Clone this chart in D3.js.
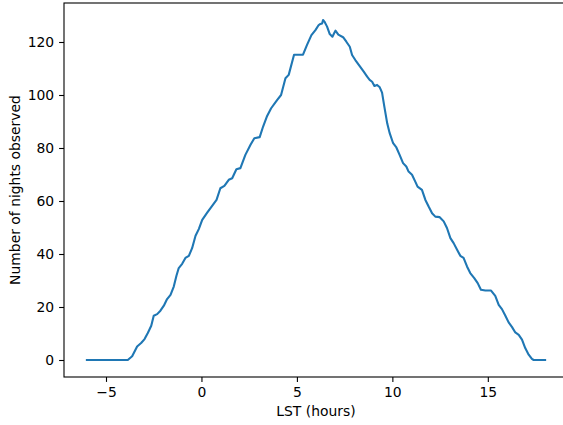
<!DOCTYPE html>
<html>
<head>
<meta charset="utf-8">
<script src="https://cdn.jsdelivr.net/npm/d3@7"></script>
<style>
  body { margin: 0; background: #fff; }
  svg text { font-family: "DejaVu Sans", sans-serif; fill: #000; }
</style>
</head>
<body>
<svg width="563" height="425"></svg>
<script>
// values
var lst = [-6, -3.86, -3.63, -3.37, -3.16, -2.98, -2.81, -2.63, -2.5, -2.32, -2.15, -1.97,
  -1.8, -1.62, -1.45, -1.31, -1.19, -1.01, -0.84, -0.66, -0.49, -0.31, -0.14, 0.04, 0.3,
  0.56, 0.79, 0.99, 1.2, 1.43, 1.61, 1.83, 2.04, 2.3, 2.57, 2.77, 3.05, 3.23, 3.44, 3.65,
  3.96, 4.17, 4.4, 4.57, 4.85, 5.32, 5.53, 5.76, 5.97, 6.14, 6.23, 6.32, 6.37, 6.44, 6.58,
  6.72, 6.86, 6.95, 7.02, 7.17, 7.42, 7.59, 7.77, 7.89, 8.06, 8.29, 8.5, 8.68, 8.81, 8.94,
  9.06, 9.2, 9.34, 9.46, 9.58, 9.73, 9.86, 10.04, 10.21, 10.38, 10.56, 10.73, 10.85, 11.03,
  11.2, 11.32, 11.55, 11.73, 11.9, 12.08, 12.25, 12.48, 12.69, 12.86, 13.04, 13.21, 13.39,
  13.56, 13.73, 13.91, 14.08, 14.29, 14.47, 14.64, 14.87, 15.17, 15.39, 15.57, 15.74, 15.92,
  16.09, 16.27, 16.44, 16.62, 16.79, 16.96, 17.14, 17.31, 17.4, 18];
var nights = [0, 0, 1.4, 5.1, 6.4, 7.9, 10.2, 12.9, 16.7, 17.3, 18.6, 20.5,
  23, 24.6, 27.7, 31.8, 34.7, 36.3, 38.5, 39.3, 42.2, 46.9, 49.4, 52.9, 55.6,
  58.2, 60.4, 64.8, 65.7, 68, 68.6, 72, 72.4, 77.4, 81.2, 83.7, 84.1, 88.1, 92.1, 95,
  98.1, 100, 106.3, 107.6, 115.2, 115.2, 118.9, 122.6, 124.5, 126.4, 126.8, 127, 128.3, 127.7, 125.8,
  123, 122, 123.3, 124.3, 122.8, 121.8, 120.1, 118.2, 115.1, 113.2, 110.9, 108.8, 106.9, 105.7, 105,
  103.4, 103.8, 102.9, 100.9, 95.6, 89.3, 85.6, 81.8, 80.2, 77.4, 74.3, 73, 71.1, 69.9,
  67.3, 65.4, 64.2, 60.4, 57.9, 55.4, 54.1, 53.9, 52.3, 49.8, 46, 44.1, 41.6,
  39.3, 38.5, 35.3, 32.8, 30.9, 29, 26.5, 26.2, 26.2, 24.2, 20.8, 19.2, 16.7,
  14.2, 12.4, 10.4, 9.5, 7.7, 4.5, 2, 0.4, 0, 0];
var xTicks = [-5, 0, 5, 10, 15];
var yTicks = [0, 20, 40, 60, 80, 100, 120];

var svg = d3.select('svg');
var plotLeft = 64, plotRight = 568, plotTop = 3, plotBottom = 377;
var fontSize = 13.9;

var xExt = d3.extent(lst), yExt = d3.extent(nights);
var xPad = (xExt[1] - xExt[0]) * 0.05, yPad = (yExt[1] - yExt[0]) * 0.05;
var x = d3.scaleLinear().domain([xExt[0] - xPad, xExt[1] + xPad]).range([plotLeft, plotRight]);
var y = d3.scaleLinear().domain([yExt[0] - yPad, yExt[1] + yPad]).range([plotBottom, plotTop]);

var line = d3.line()
    .x(function (d, i) { return x(lst[i]); })
    .y(function (d) { return y(d); });

svg.append('path')
    .datum(nights)
    .attr('fill', 'none')
    .attr('stroke', '#1f77b4')
    .attr('stroke-width', 2.1)
    .attr('stroke-linejoin', 'round')
    .attr('stroke-linecap', 'square')
    .attr('d', line);

var xAxis = svg.append('g')
    .attr('transform', 'translate(0,' + plotBottom + ')')
    .call(d3.axisBottom(x).tickValues(xTicks).tickSize(4.9).tickPadding(4.9).tickSizeOuter(0));
var yAxis = svg.append('g')
    .attr('transform', 'translate(' + plotLeft + ',0)')
    .call(d3.axisLeft(y).tickValues(yTicks).tickSize(4.9).tickPadding(4.9).tickSizeOuter(0));

[xAxis, yAxis].forEach(function (g) {
    g.select('.domain').remove();
    g.selectAll('line').attr('stroke', '#000').attr('stroke-width', 1.1);
    g.selectAll('text').attr('font-size', fontSize).attr('font-family', 'DejaVu Sans');
});

// frame
svg.append('rect')
    .attr('x', plotLeft).attr('y', plotTop)
    .attr('width', plotRight - plotLeft).attr('height', plotBottom - plotTop)
    .attr('fill', 'none').attr('stroke', '#000').attr('stroke-width', 1.1);

svg.append('text')
    .attr('x', (plotLeft + plotRight) / 2).attr('y', 416)
    .attr('text-anchor', 'middle').attr('font-size', fontSize)
    .text('LST (hours)');

svg.append('text')
    .attr('transform', 'translate(20,' + (plotTop + plotBottom) / 2 + ') rotate(-90)')
    .attr('text-anchor', 'middle').attr('font-size', fontSize)
    .text('Number of nights observed');
</script>
</body>
</html>
